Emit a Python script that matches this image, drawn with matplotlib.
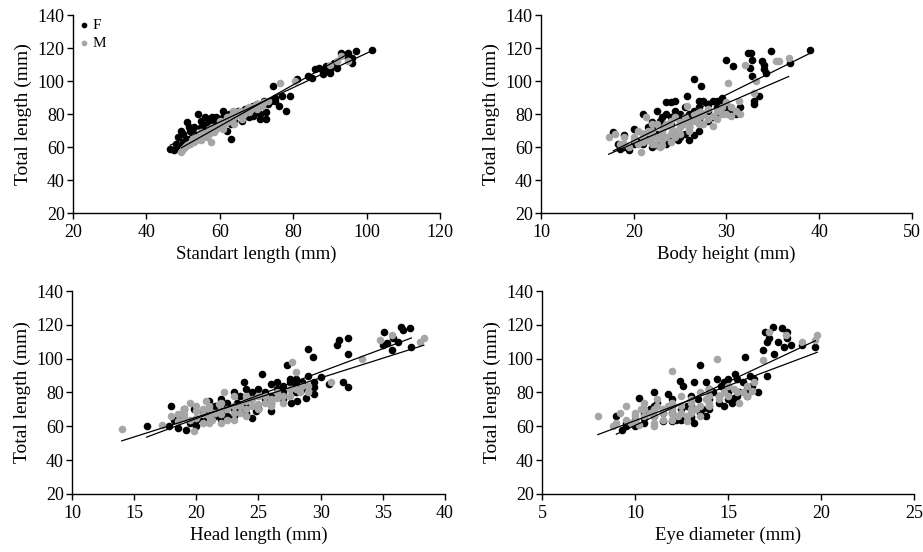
import numpy as np
import matplotlib
matplotlib.use("Agg")
import matplotlib.pyplot as plt

plt.rcParams['font.family'] = ['Liberation Serif', 'DejaVu Serif']
plt.rcParams['font.size'] = 13

# --- Standart length vs total length ---
sl_f_x = [46.5, 47.5, 48.5, 49.5, 50, 51, 51.5, 52, 53, 54, 55, 56, 56.5, 57, 57.5, 58, 59, 60,
          61, 62, 62.5, 63, 64, 65, 66, 67, 68, 69, 70, 71, 72, 72.5, 73, 74, 74.5, 75, 76, 77,
          78, 79, 81, 84, 86, 87, 88, 89, 90, 91, 93, 94, 95, 96, 97, 101.5,
          52, 54, 57, 60, 63, 66, 69,
          48, 49, 50, 51, 53, 55, 56, 58, 59, 61, 64, 67, 70, 71, 72.5, 73.5, 75, 85, 88, 92, 96, 90]
sl_f_y = [58.5, 58, 66, 70, 68, 75, 72, 70, 68, 80, 76, 78, 74, 77, 75, 78, 76, 74,
          82, 70, 80, 65, 78, 82, 80, 83, 78, 85, 86, 80, 88, 77, 86, 88, 97, 90, 85, 91,
          82, 91, 101, 103, 107, 108, 106, 109, 105, 111, 117, 116, 117, 111, 118, 119,
          64, 66, 70, 72, 74, 76, 79,
          62, 60, 63, 65, 72, 72, 73, 73, 78, 78, 76, 79, 82, 77, 81, 87, 88, 102, 104, 108, 114, 107]
sl_m_x = [49.5, 50, 51, 52, 52.5, 53, 54, 55, 55.5, 56, 57, 57.5, 58, 59, 60, 61, 62, 63,
          63.5, 64, 65, 66, 67, 68, 69, 70, 71, 72, 73, 76.5, 80.5, 90, 92, 93, 95,
          53, 55, 58, 60, 62, 64, 66, 68, 70,
          50.5, 51.5, 53.5, 54.5, 56.5, 58.5, 59.5, 60.5, 61.5, 62.5, 63, 64.5, 65.5, 66.5, 67.5,
          69.5, 71.5, 61, 57, 55]
sl_m_y = [57, 59, 61, 62, 64, 63, 65, 66, 67, 68, 68, 63, 70, 71, 72, 73, 75, 76,
          82, 78, 80, 79, 82, 81, 84, 83, 86, 87, 88, 99, 100, 110, 112, 115, 112,
          66, 69, 72, 76, 78, 74, 77, 84, 86,
          60, 62, 64, 67, 66, 69, 73, 74, 76, 77, 79, 81, 82, 80, 83,
          85, 85, 71, 71, 64]

# --- Body height vs total length ---
bh_f_x = [17.8, 18.3, 18.5, 19, 19.5, 20, 20.5, 21, 21.5, 22, 22.5, 22.8, 23, 23.5, 24, 24.2,
          24.5, 24.8, 25, 25.5, 25.7, 26, 26.5, 26.5, 27, 27.3, 27.5, 28, 28.5, 29, 29.5, 30,
          30, 30.5, 30.7, 31.5, 32.3, 32.6, 32.5, 32.7, 32.8, 33, 33, 33.5, 33.8, 34, 34, 34.3,
          34.8, 36.8, 39, 22, 23, 24, 25, 26, 27, 28, 29, 28, 23.5, 22, 21,
          19, 20, 21, 21.5, 22.5, 23, 23.5, 24, 24.5, 25, 25.5, 26, 26.5, 27, 27.5, 28, 28.5,
          29, 29.5, 30, 30.5, 31, 27, 26, 24, 22.5]
bh_f_y = [69, 62, 59, 67, 58, 71, 63, 80, 65, 72, 82, 76, 66, 87, 87, 70,
          88, 64, 80, 68, 91, 72, 101, 67, 88, 97, 80, 86, 78, 84, 90, 86,
          113, 82, 109, 84, 117, 117, 108, 113, 103, 86, 88, 91, 112, 110, 107, 105,
          118, 111, 119, 75, 78, 74, 76, 79, 77, 82, 88, 76, 62, 60, 62,
          60, 62, 68, 72, 68, 74, 80, 78, 82, 66, 84, 80, 82, 84, 88, 86, 88,
          80, 86, 82, 80, 80, 70, 64, 64, 61]
bh_m_x = [17.3, 18, 18.5, 19, 19.5, 20, 20.5, 20.8, 21, 21.3, 21.5, 22, 22.3, 22.5, 23, 23.3,
          23.5, 24, 24.3, 24.5, 25, 25.3, 25.7, 26, 26.5, 27, 27.5, 28, 28.5, 29, 29.5, 30,
          30.2, 30.5, 31, 31.3, 32, 33, 33.2, 35.3, 35.7, 36.7,
          22, 23, 24, 25, 26, 27, 21, 22.8,
          19, 20, 20.5, 21, 21.5, 22, 22.5, 23, 23.5, 24, 24.5, 25, 25.5, 26, 26.5, 27, 27.5,
          28, 28.5, 29, 29.5, 30, 30.5, 31.5, 22, 23, 24]
bh_m_y = [66, 68, 62, 66, 60, 64, 70, 57, 68, 78, 64, 70, 62, 74, 68, 72,
          66, 76, 70, 78, 72, 74, 85, 76, 80, 78, 74, 83, 73, 82, 80, 87,
          99, 79, 82, 88, 110, 93, 100, 112, 112, 114,
          66, 64, 68, 68, 72, 74, 66, 60,
          62, 66, 62, 63, 70, 74, 66, 70, 74, 72, 66, 75, 78, 70, 76, 82, 80,
          77, 79, 77, 84, 80, 84, 80, 62, 61, 63]

# --- Head length vs total length ---
hl_f_x = [16, 17.8, 18, 18.2, 18.5, 19, 19.2, 19.8, 20, 20.5, 21, 21.5, 22, 22, 22.5, 23,
          23.3, 23.5, 23.8, 24, 24.3, 24.5, 24.8, 25, 25.3, 25.5, 26, 26, 26.5, 27, 27.3, 27.5,
          27.6, 28, 28.1, 28.5, 28.8, 29, 29.4, 29.5, 29.5, 30, 30.7, 31.3, 31.5, 31.8, 32.2,
          32.2, 32.2, 35, 35.1, 35.3, 35.7, 35.8, 36.2, 36.5, 36.6, 37.2, 37.3,
          18.5, 19.5, 20, 20.5, 21, 21.5, 22, 22.5, 23, 23.5, 24, 24.5, 25, 25.5, 26, 26.5,
          27, 27.5, 28, 28.5, 29, 29.5, 24, 25, 23, 22, 26, 27, 28]
hl_f_y = [60, 60, 72, 64, 59, 70, 58, 70, 64, 68, 75, 66, 76, 72, 66, 80,
          74, 70, 86, 82, 77, 65, 69, 71, 91, 80, 85, 69, 86, 84, 96, 88,
          74, 85, 75, 86, 77, 106, 101, 83, 79, 89, 85, 108, 111, 86, 112,
          103, 83, 108, 116, 109, 105, 112, 110, 119, 117, 118, 107,
          64, 62, 60, 64, 70, 72, 68, 74, 70, 78, 72, 80, 82, 76, 78, 82,
          80, 86, 88, 82, 90, 86, 68, 70, 66, 64, 74, 76, 80]
hl_m_x = [14, 17.2, 18, 18.5, 19, 19.5, 19.8, 20, 20.5, 20.8, 21, 21.3, 21.8, 22, 22.2, 22.5,
          23, 23, 23.5, 24, 24.5, 25, 25.5, 26, 26.5, 27, 27.5, 27.7, 28, 28.3, 29, 30.8,
          33.3, 34.8, 35.7, 38, 38.3, 20, 21, 22, 23, 24, 25, 26, 19, 20.5,
          18.5, 19, 19.5, 20, 20.5, 21, 21.5, 22, 22.5, 23, 23.5, 24, 24.5, 25, 25.5, 26,
          26.5, 27, 27.5, 28, 28.5, 29, 22, 24, 21]
hl_m_y = [58.5, 61, 66, 63, 67, 74, 57, 69, 62, 75, 70, 64, 73, 67, 80, 70,
          64, 78, 68, 75, 72, 78, 74, 76, 80, 78, 82, 98, 92, 80, 84, 86,
          100, 111, 114, 110, 112, 65, 66, 70, 72, 70, 73, 74, 65, 67,
          67, 70, 64, 72, 70, 62, 68, 74, 64, 68, 72, 66, 76, 70, 78, 72,
          77, 74, 78, 82, 84, 80, 62, 78, 72]

# --- Eye diameter vs total length ---
ed_f_x = [9, 9.3, 9.5, 10, 10.2, 10.5, 10.8, 11, 11.2, 11.5, 11.8, 12, 12.2, 12.4, 12.6, 12.8,
          13, 13.2, 13.4, 13.5, 13.6, 13.8, 14, 14.2, 14.4, 14.5, 14.8, 15, 15, 15.3, 15.4,
          15.5, 15.9, 16.2, 16.6, 16.9, 17, 17.1, 17.2, 17.4, 17.5, 17.7, 17.9, 18, 18.2, 18.2,
          18.4, 19, 19.7, 17.1, 11, 12, 13, 14, 12.5, 10.5,
          12, 12.5, 13, 13.2, 13.5, 14, 14.5, 15, 15.5, 16, 13, 14, 15, 11.5, 10.5, 10, 9.5,
          11, 12, 13.8, 14.6, 15.8, 16.4, 15.2, 16, 16.3, 14.8, 15.6]
ed_f_y = [66, 58, 62, 60, 77, 65, 70, 80, 74, 63, 79, 68, 64, 87, 84, 72,
          66, 86, 76, 96, 70, 86, 72, 80, 88, 78, 86, 88, 84, 77, 91,
          88, 101, 90, 80, 105, 116, 110, 112, 119, 103, 110, 118, 107, 116, 112,
          108, 108, 107, 90, 72, 76, 78, 82, 70, 62,
          63, 64, 65, 62, 68, 70, 74, 76, 78, 82, 72, 76, 80, 68, 67, 64, 60,
          66, 72, 66, 84, 86, 88, 74, 78, 84, 72, 80]
ed_m_x = [8, 8.8, 9.2, 9.5, 9.8, 10, 10.3, 10.5, 10.8, 11, 11.2, 11.5, 11.8, 12, 12, 12.3,
          12.5, 12.8, 13, 13.3, 13.5, 13.8, 14, 14.4, 14.5, 14.8, 15, 15.3, 15.6, 15.8, 16,
          16.3, 16.4, 16.9, 17.2, 18.1, 19, 19.7, 19.8, 10, 11, 12, 13, 11.5, 14,
          9, 9.5, 10, 10.5, 10.5, 11, 11.2, 11.5, 12, 12, 12.5, 12.5, 13, 13, 13.5, 13.5,
          14, 14, 14.5, 15, 15.5, 16, 11, 12.8, 10.2]
ed_m_y = [66, 60, 68, 72, 62, 66, 70, 74, 68, 60, 76, 64, 72, 93, 70, 66,
          78, 63, 74, 70, 80, 76, 82, 100, 78, 80, 84, 82, 74, 80, 84,
          81, 86, 99, 116, 114, 110, 111, 114, 63, 66, 67, 68, 70, 72,
          62, 64, 68, 66, 70, 70, 72, 68, 74, 64, 68, 72, 70, 76, 72, 66,
          74, 78, 76, 78, 80, 78, 62, 66, 61]

panels = [
    ([0.0791, 0.6141, 0.3976, 0.3587], sl_f_x, sl_f_y, sl_m_x, sl_m_y,
     (20, 120), np.arange(20, 121, 20), 'Standart length (mm)'),
    ([0.5861, 0.6141, 0.4020, 0.3587], bh_f_x, bh_f_y, bh_m_x, bh_m_y,
     (10, 50), np.arange(10, 51, 10), 'Body height (mm)'),
    ([0.0780, 0.1051, 0.4041, 0.3677], hl_f_x, hl_f_y, hl_m_x, hl_m_y,
     (10, 40), np.arange(10, 41, 5), 'Head length (mm)'),
    ([0.5872, 0.1051, 0.4030, 0.3677], ed_f_x, ed_f_y, ed_m_x, ed_m_y,
     (5, 25), np.arange(5, 26, 5), 'Eye diameter (mm)'),
]

fig = plt.figure(figsize=(9.23, 5.52), dpi=100)

for i, (rect, fx, fy, mx, my, xlim, xticks, xlabel) in enumerate(panels):
    ax = fig.add_axes(rect)
    ax.scatter(fx, fy, s=30, color='black', label='F', zorder=2, linewidths=0)
    ax.scatter(mx, my, s=30, color='#a6a6a6', label='M', zorder=3, linewidths=0)
    # linear trendlines, one per sex
    for xs, ys in ((fx, fy), (mx, my)):
        xs = np.asarray(xs, float)
        ys = np.asarray(ys, float)
        k, b = np.polyfit(xs, ys, 1)
        xx = np.array([xs.min(), xs.max()])
        ax.plot(xx, k * xx + b, color='black', lw=0.9, zorder=4)
    ax.set_xlim(*xlim)
    ax.set_ylim(20, 140)
    ax.set_xticks(xticks)
    ax.set_yticks(np.arange(20, 141, 20))
    ax.set_xlabel(xlabel, labelpad=3, fontsize=13.5)
    ax.set_ylabel('Total length (mm)', labelpad=4, fontsize=14)
    for side in ('top', 'right'):
        ax.spines[side].set_visible(False)
    for side in ('left', 'bottom'):
        ax.spines[side].set_linewidth(1.0)
    ax.tick_params(axis='x', direction='out', length=4, width=1.0, pad=4)
    ax.tick_params(axis='y', direction='out', length=4, width=1.0, pad=2)
    if i == 0:
        ax.legend(loc='upper left', frameon=False, handletextpad=0.1,
                  borderaxespad=0.0, borderpad=0.2, labelspacing=0.3,
                  markerscale=0.75, fontsize=11, handlelength=1.0)

fig.savefig('out.png', dpi=100)
